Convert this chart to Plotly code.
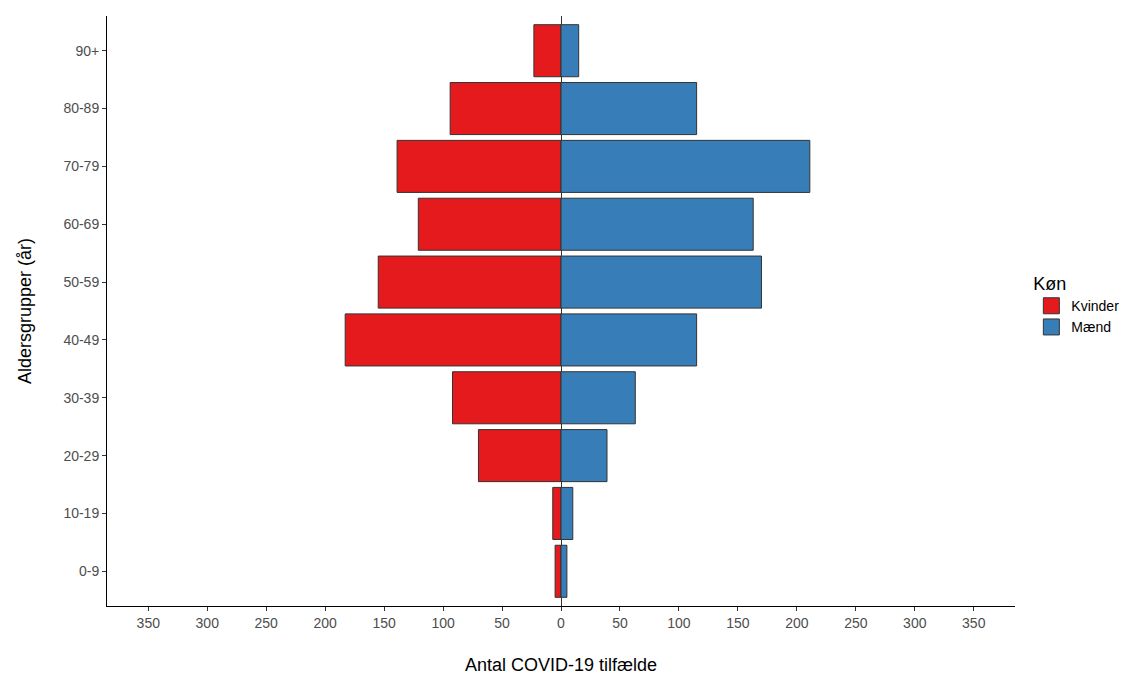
import plotly.graph_objects as go

age_groups = ["0-9", "10-19", "20-29", "30-39", "40-49", "50-59", "60-69", "70-79", "80-89", "90+"]
kvinder = [5, 7, 70, 92, 183, 155, 121, 139, 94, 23]
maend = [5, 10, 39, 63, 115, 170, 163, 211, 115, 15]
series_names = ["Kvinder", "Mænd"]
series_colors = ["#E41A1C", "#377EB8"]
tick_vals = [-350, -300, -250, -200, -150, -100, -50, 0, 50, 100, 150, 200, 250, 300, 350]
tick_text = [str(abs(v)) for v in tick_vals]

fig = go.Figure()
fig.add_trace(go.Bar(
    y=age_groups, x=[-v for v in kvinder], orientation="h", name=series_names[0],
    marker=dict(color=series_colors[0], line=dict(color="#333333", width=1)),
    width=0.9, showlegend=False,
))
fig.add_trace(go.Bar(
    y=age_groups, x=maend, orientation="h", name=series_names[1],
    marker=dict(color=series_colors[1], line=dict(color="#333333", width=1)),
    width=0.9, showlegend=False,
))
# legend keys (legend-only entries with larger square swatches)
for name, col in zip(series_names, series_colors):
    fig.add_trace(go.Scatter(
        x=[None], y=[None], mode="markers", name=name,
        marker=dict(symbol="square", size=22, color=col, line=dict(color="#333333", width=1)),
    ))

fig.update_layout(
    barmode="relative",
    width=1134, height=677,
    margin=dict(l=99, r=127, t=8, b=79),
    plot_bgcolor="white", paper_bgcolor="white",
    font=dict(family="Liberation Sans, Arial, sans-serif", color="black"),
    legend=dict(
        title=dict(text="Køn", font=dict(size=18)),
        font=dict(size=14),
        x=1.018, xanchor="left", y=0.575, yanchor="top",
        traceorder="normal", itemsizing="trace",
        tracegroupgap=0, itemwidth=30,
    ),
)
fig.update_xaxes(
    range=[-385, 385], tickvals=tick_vals, ticktext=tick_text,
    showline=True, linecolor="black", linewidth=1,
    ticks="outside", ticklen=4, tickcolor="#333333",
    tickfont=dict(size=14, color="#4D4D4D"),
    showgrid=False,
    zeroline=True, zerolinecolor="#333333", zerolinewidth=1.2,
    layer="above traces",
    title=dict(text="Antal COVID-19 tilfælde", font=dict(size=18), standoff=28),
)
fig.update_yaxes(
    range=[-0.6, 9.6],
    showline=True, linecolor="black", linewidth=1,
    ticks="outside", ticklen=4, tickcolor="#333333",
    tickfont=dict(size=14, color="#4D4D4D"),
    showgrid=False,
    title=dict(text="Aldersgrupper (år)", font=dict(size=18), standoff=27),
)

fig.write_html("out.html")
